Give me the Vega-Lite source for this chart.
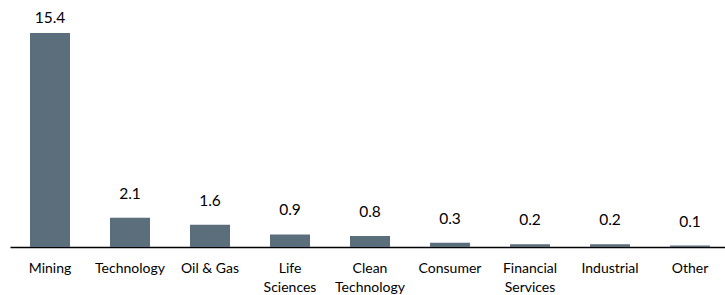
{
  "$schema": "https://vega.github.io/schema/vega-lite/v6.json",
  "autosize": {"type": "none"},
  "padding": {"left": 10, "top": 33, "right": 0, "bottom": 48},
  "width": 720,
  "height": 214,
  "background": "white",
  "data": {"values": [
    {"sector": "Mining", "value": 15.4},
    {"sector": "Technology", "value": 2.1},
    {"sector": "Oil & Gas", "value": 1.6},
    {"sector": "Life Sciences", "value": 0.9},
    {"sector": "Clean Technology", "value": 0.8},
    {"sector": "Consumer", "value": 0.3},
    {"sector": "Financial Services", "value": 0.2},
    {"sector": "Industrial", "value": 0.2},
    {"sector": "Other", "value": 0.1}
  ]},
  "encoding": {
    "x": {
      "field": "sector", "type": "nominal", "sort": null,
      "scale": {"paddingInner": 0.5, "paddingOuter": 0.25},
      "axis": {
        "title": null, "labelAngle": 0, "ticks": false,
        "domainColor": "#000000", "domainWidth": 1.5,
        "labelFont": "Lato", "labelFontSize": 14, "labelColor": "#000000",
        "labelPadding": 14, "labelLineHeight": 19,
        "labelExpr": "datum.label == 'Life Sciences' ? ['Life','Sciences'] : datum.label == 'Clean Technology' ? ['Clean','Technology'] : datum.label == 'Financial Services' ? ['Financial','Services'] : datum.label"
      }
    },
    "y": {
      "field": "value", "type": "quantitative",
      "scale": {"domain": [0, 15.4], "nice": false, "zero": true},
      "axis": null
    }
  },
  "layer": [
    {"mark": {"type": "bar", "color": "#5B6E7B"}},
    {"transform": [{"filter": "datum.value < 10"}],
     "mark": {"type": "text", "baseline": "bottom", "dy": -16, "font": "Lato", "fontSize": 15.5, "color": "#000000"},
     "encoding": {"text": {"field": "value", "type": "quantitative", "format": ".1f"}}},
    {"transform": [{"filter": "datum.value >= 10"}],
     "mark": {"type": "text", "baseline": "bottom", "dy": -7, "font": "Lato", "fontSize": 15.5, "color": "#000000"},
     "encoding": {"text": {"field": "value", "type": "quantitative", "format": ".1f"}}}
  ],
  "config": {"view": {"stroke": null}}
}
